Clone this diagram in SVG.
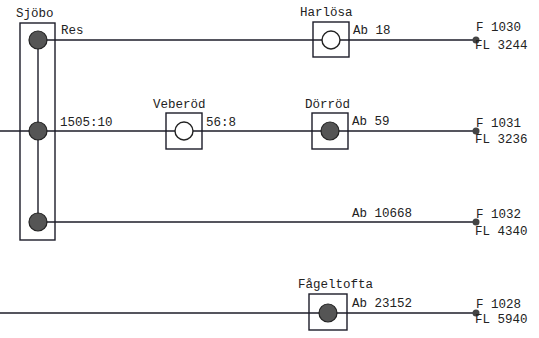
<svg xmlns="http://www.w3.org/2000/svg" width="539" height="338" viewBox="0 0 539 338">
<style>
.ln{stroke:#1c1c28;stroke-width:1.4;fill:none}
.box{stroke:#1c1c28;stroke-width:1.4;fill:none}
.full{fill:#555;stroke:#222;stroke-width:1.2}
.open{fill:#fff;stroke:#222;stroke-width:1.4}
.end{fill:#444;stroke:none}
text{font-family:"Liberation Mono","DejaVu Sans Mono",monospace;font-size:12.5px;fill:#222}
</style>
<rect width="539" height="338" fill="#fff"/>
<g id="connectors">
<line class="ln" x1="38" y1="40" x2="476" y2="40"/>
<line class="ln" x1="0" y1="131" x2="476" y2="131"/>
<line class="ln" x1="38" y1="222" x2="476" y2="222"/>
<line class="ln" x1="0" y1="313" x2="476" y2="313"/>
<line class="ln" x1="38" y1="40" x2="38" y2="222"/>
</g>
<g id="sjobo">
<rect class="box" x="20" y="23" width="35" height="217"/>
<text x="16" y="17">Sjöbo</text>
<circle class="full" cx="38" cy="40" r="9"/>
<circle class="full" cx="38" cy="131" r="9"/>
<circle class="full" cx="38" cy="222" r="9"/>
<text x="61" y="34">Res</text>
<text x="60" y="126">1505:10</text>
</g>
<g id="harlosa">
<rect class="box" x="313" y="22" width="36" height="35"/>
<circle class="open" cx="331" cy="40" r="9"/>
<text x="300" y="16">Harlösa</text>
<text x="353" y="34">Ab 18</text>
</g>
<g id="veberod">
<rect class="box" x="166" y="113" width="36" height="36"/>
<circle class="open" cx="184" cy="131" r="9"/>
<text x="153" y="108">Veberöd</text>
<text x="206" y="126">56:8</text>
</g>
<g id="dorrod">
<rect class="box" x="312" y="113" width="36" height="36"/>
<circle class="full" cx="330" cy="131" r="9"/>
<text x="305" y="108">Dörröd</text>
<text x="352" y="125">Ab 59</text>
</g>
<g id="line3">
<text x="352" y="217">Ab 10668</text>
</g>
<g id="fageltofta">
<rect class="box" x="309" y="294" width="38" height="36"/>
<circle class="full" cx="328" cy="313" r="9"/>
<text x="298" y="288">Fågeltofta</text>
<text x="352" y="307">Ab 23152</text>
</g>
<g id="end1">
<circle class="end" cx="476" cy="40" r="3.5"/>
<text x="476" y="31">F 1030</text>
<text x="475" y="49">FL 3244</text>
</g>
<g id="end2">
<circle class="end" cx="476" cy="131" r="3.5"/>
<text x="476" y="127">F 1031</text>
<text x="475" y="143">FL 3236</text>
</g>
<g id="end3">
<circle class="end" cx="476" cy="222" r="3.5"/>
<text x="476" y="218">F 1032</text>
<text x="475" y="235">FL 4340</text>
</g>
<g id="end4">
<circle class="end" cx="476" cy="313" r="3.5"/>
<text x="476" y="308">F 1028</text>
<text x="475" y="323">FL 5940</text>
</g>
</svg>
